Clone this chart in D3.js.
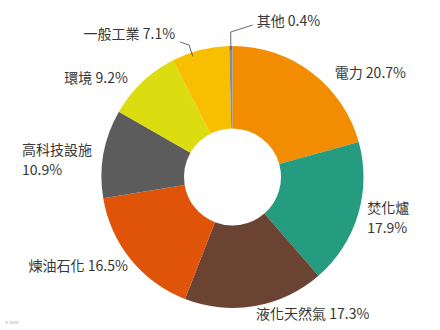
<!DOCTYPE html>
<html>
<head>
<meta charset="utf-8">
<script src="https://cdn.jsdelivr.net/npm/d3@7"></script>
<style>
  body { margin: 0; background: #fff; }
  svg text { font-family: "Noto Sans CJK TC", "Noto Sans", sans-serif; fill: #363636; }
</style>
</head>
<body>
<div id="chart"></div>
<script>
// chart data
var categories = ["電力", "焚化爐", "液化天然氣", "煉油石化", "高科技設施", "環境", "一般工業", "其他"];
var shares = [20.7, 17.9, 17.3, 16.5, 10.9, 9.2, 7.1, 0.4];
var colors = ["#f28c00", "#259b80", "#6b4332", "#e0540a", "#5b5c5b", "#dcdd10", "#f8be00", "#8a8a8a"];

var WIDTH = 440, HEIGHT = 330;
var CX = 232.5, CY = 177;
var OUTER = 131, INNER = 48.5;
var LINE_GAP = 20;

// label layout: offset from point at radius OUTER+18 on the slice mid-angle
var labelLayout = [
    {dx: 12, dy: 16, anchor: "start", split: false},
    {dx: -8, dy: -11, anchor: "start", split: true},
    {dx: -2, dy: -9, anchor: "start", split: false},
    {dx: 11, dy: -4, anchor: "end", split: false},
    {x: 22, dy: 1, anchor: "start", split: true},
    {dx: -2, dy: 10, anchor: "end", split: false},
    {leader: -4, r2: 139, elbow: [-9, -3], tdx: -5, tdy: -7, anchor: "end", split: false},
    {leader: 0, r2: 145, elbow: [22, -7], tdx: 4, tdy: -3, anchor: "start", split: false}
];

var data = categories.map(function(c, i) {
    return {name: c, value: shares[i], color: colors[i], layout: labelLayout[i]};
});

var svg = d3.select("#chart").append("svg")
    .attr("width", WIDTH)
    .attr("height", HEIGHT);

var g = svg.append("g")
    .attr("transform", "translate(" + CX + "," + CY + ")");

var pie = d3.pie()
    .sort(null)
    .value(function(d) { return d.value; });

var arc = d3.arc()
    .innerRadius(INNER)
    .outerRadius(OUTER);

var arcs = pie(data);

g.selectAll("path.slice")
    .data(arcs)
    .enter()
    .append("path")
    .classed("slice", true)
    .attr("d", arc)
    .attr("fill", function(d) { return d.data.color; });

function polar(angle, r) {
    return [Math.sin(angle) * r, -Math.cos(angle) * r];
}

var fmt = function(v) { return v.toFixed(1) + "%"; };

function addText(x, y, anchor, str) {
    g.append("text")
        .attr("x", x)
        .attr("y", y)
        .attr("text-anchor", anchor)
        .attr("dominant-baseline", "middle")
        .style("font-size", "14px")
        .text(str);
}

arcs.forEach(function(d) {
    var L = d.data.layout;
    var mid = (d.startAngle + d.endAngle) / 2;
    var x, y;

    if(L.leader !== undefined) {
        // thin slices get a leader line
        var a = mid + L.leader * Math.PI / 180;
        var p1 = polar(a, OUTER - 4);
        var p2 = polar(a, L.r2);
        var p3 = [p2[0] + L.elbow[0], p2[1] + L.elbow[1]];
        g.append("polyline")
            .attr("points", [p1, p2, p3].map(function(p) { return p.join(","); }).join(" "))
            .attr("fill", "none")
            .attr("stroke", "#444")
            .attr("stroke-width", 0.8);
        x = p3[0] + L.tdx;
        y = p3[1] + L.tdy;
    } else {
        var p = polar(mid, OUTER + 18);
        x = L.x !== undefined ? L.x - CX : p[0] + L.dx;
        y = p[1] + L.dy;
    }

    if(L.split) {
        addText(x, y, L.anchor, d.data.name);
        addText(x, y + LINE_GAP, L.anchor, fmt(d.data.value));
    } else {
        addText(x, y, L.anchor, d.data.name + " " + fmt(d.data.value));
    }
});

// tiny footnote
svg.append("text")
    .attr("x", 5)
    .attr("y", 324)
    .style("font-size", "4px")
    .style("fill", "#999")
    .text("© 2024");
</script>
</body>
</html>
